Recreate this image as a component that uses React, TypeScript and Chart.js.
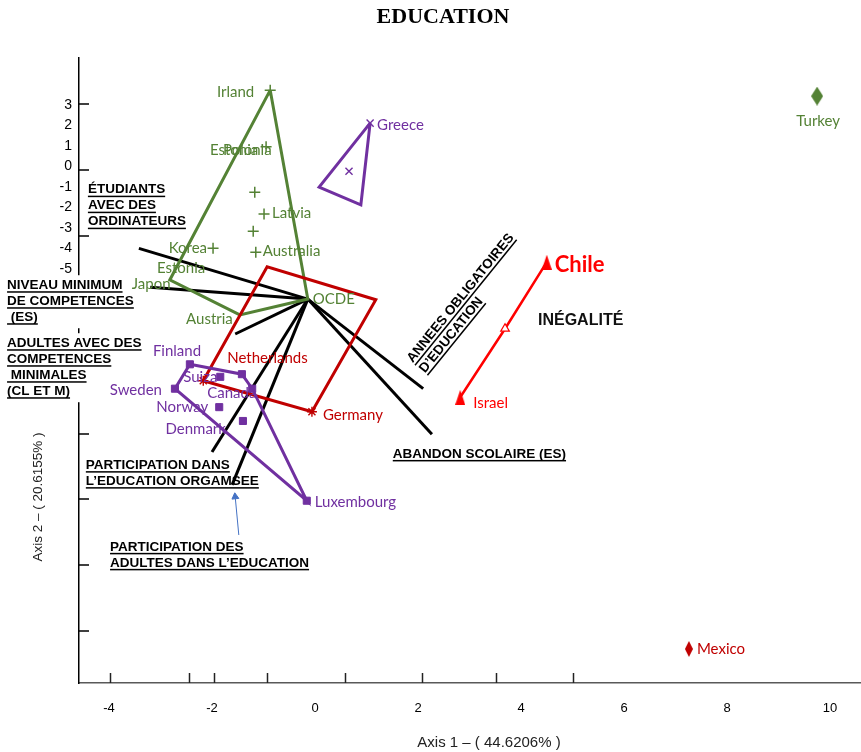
import React, { useEffect, useRef } from 'react';
import { Chart, registerables } from 'chart.js';

Chart.register(...registerables);

// ---------------- data ----------------
const xTickLabels = [-4, -2, 0, 2, 4, 6, 8, 10];
const yTickLabels = [3, 2, 1, 0, -1, -2, -3, -4, -5];
const xTickMarks = [-3.98, -2.45, -1.96, -0.93, 0.58, 2.08, 3.52, 5.01];
const yTickMarks = [3, 2, 1, 0, -1, -2, -3, -4, -5];

// green group
const greenPlusNames = ['Irland', 'Polonia', '', 'Latvia', '', 'Australia', 'Korea'];
const greenPlusX = [-0.87, -0.95, -1.17, -0.99, -1.2, -1.15, -1.98];
const greenPlusY = [3.21, 2.35, 1.66, 1.33, 1.07, 0.75, 0.81];
const greenVertexNames = ['Japon', 'Austria', 'OCDE'];
const greenVertexX = [-2.82, -1.46, -0.14];
const greenVertexY = [0.33, -0.2, 0.04];
const greenHull = ['Irland', 'OCDE', 'Austria', 'Japon', 'Irland'];
const turkeyX = [9.75];
const turkeyY = [3.12];
const greenExtraNames = ['Estonia', 'Estonia'];
const greenExtraX = [-2.04, -3.07];
const greenExtraY = [2.3, 0.51];

// purple group
const purpleSquareNames = ['Finland', '', 'Suiza', 'Canada', 'Sweden', 'Norway', 'Denmark', 'Luxembourg'];
const purpleSquareX = [-2.43, -1.42, -1.84, -1.22, -2.72, -1.86, -1.4, -0.16];
const purpleSquareY = [-0.95, -1.1, -1.14, -1.32, -1.32, -1.6, -1.81, -3.02];
const purpleHull = [0, 1, 3, 7, 4, 0];
const purpleCrossNames = ['Greece', ''];
const purpleCrossX = [1.07, 0.66];
const purpleCrossY = [2.71, 1.98];
const greeceTriX = [1.07, 0.89, 0.08, 1.07];
const greeceTriY = [2.71, 1.47, 1.74, 2.71];

// red group
const redStarNames = ['Netherlands', 'Germany'];
const redStarX = [-2.17, -0.06];
const redStarY = [-1.2, -1.67];
const redHullX = [-2.17, -0.93, 1.18, -0.06, -2.17];
const redHullY = [-1.2, 0.53, 0.03, -1.67, -1.2];
const inequalityNames = ['Chile', '', 'Israel'];
const inequalityX = [4.5, 3.69, 2.82];
const inequalityY = [0.6, -0.41, -1.45];
const mexicoX = [7.26];
const mexicoY = [-5.27];

// loading vectors (from OCDE)
const vectorOrigin = { x: -0.14, y: 0.04 };
const vectorEndX = [-3.42, -3.2, -1.55, -2.0, -1.61, 2.1, 2.27];
const vectorEndY = [0.81, 0.22, -0.49, -2.28, -2.78, -1.32, -2.01];

const blueArrowX = [-1.48, -1.55];
const blueArrowY = [-3.54, -2.96];

// annotations
const notes = [
  { lines: ['ÉTUDIANTS', 'AVEC DES', 'ORDINATEURS'], x: -4.41, y: 1.7, box: false, angle: 0 },
  { lines: ['NIVEAU MINIMUM', 'DE COMPETENCES', ' (ES)'], x: -5.98, y: 0.25, box: true, angle: 0 },
  { lines: ['ADULTES AVEC DES', 'COMPETENCES', ' MINIMALES', '(CL ET M)'], x: -5.98, y: -0.63, box: true, angle: 0 },
  { lines: ['PARTICIPATION DANS', 'L\u2019EDUCATION ORGAMSEE'], x: -4.45, y: -2.48, box: false, angle: 0 },
  { lines: ['PARTICIPATION DES', 'ADULTES DANS L\u2019EDUCATION'], x: -3.98, y: -3.72, box: false, angle: 0 },
  { lines: ['ABANDON SCOLAIRE (ES)'], x: 1.51, y: -2.31, box: false, angle: 0 },
  { lines: ['ANNEES OBLIGATOIRES', 'D\u2019EDUCATION'], x: 1.84, y: -0.9, box: false, angle: -51 },
];
const inequalityNote = { text: 'INÉGALITÉ', x: 4.33, y: -0.29 };

const chartTitle = 'EDUCATION';
const xTitle = 'Axis 1 \u2013 ( 44.6206% )';
const yTitle = 'Axis 2 \u2013 ( 20.6155% )';

// ---------------- styles ----------------
const GREEN = '#548235';
const PURPLE = '#7030a0';
const DARKRED = '#c00000';
const RED = '#ff0000';
const LABEL_FONT = '15px Lato, "Noto Sans", sans-serif';
const NOTE_FONT = 'bold 13.5px "Liberation Sans", Arial, sans-serif';
const LINE_GAP = 16;

const labelPlacement: Record<string, [CanvasTextAlign, number, number]> = {
  Irland: ['right', -16, 2],
  Polonia: ['left', -43, 3],
  Latvia: ['left', 8, -1],
  Australia: ['left', 7, -1],
  Korea: ['right', -6, 0],
  Japon: ['left', -38, 4],
  Austria: ['right', -7, 4],
  OCDE: ['left', 5, 0],
  Turkey: ['center', 1, 25],
  Greece: ['left', 7, 2],
  Finland: ['left', -37, -13],
  Suiza: ['left', -37, 0],
  Canada: ['left', -45, 4],
  Sweden: ['right', -13, 1],
  Norway: ['right', -11, 0],
  Denmark: ['right', -17, 8],
  Luxembourg: ['left', 8, 1],
  Netherlands: ['left', 24, -23],
  Germany: ['left', 11, 3],
  Chile: ['left', 8, 3],
  Israel: ['left', 13, 6],
  Mexico: ['left', 8, 0],
};
const labelFonts: Record<string, string> = {
  Chile: 'bold 22px Lato, "Noto Sans", sans-serif',
};

const pts = (xs: number[], ys: number[]) => xs.map((x, i) => ({ x, y: ys[i] }));

function makeDiamond(color: string, w: number, h: number) {
  const c = document.createElement('canvas');
  c.width = w;
  c.height = h;
  const g = c.getContext('2d')!;
  g.fillStyle = color;
  g.beginPath();
  g.moveTo(w / 2, 0);
  g.lineTo(w, h / 2);
  g.lineTo(w / 2, h);
  g.lineTo(0, h / 2);
  g.closePath();
  g.fill();
  return c;
}
function makeArrowHead(color: string, w: number, h: number) {
  const c = document.createElement('canvas');
  c.width = w;
  c.height = h;
  const g = c.getContext('2d')!;
  g.fillStyle = color;
  g.beginPath();
  g.moveTo(w / 2, 0);
  g.lineTo(w, h);
  g.lineTo(0, h);
  g.closePath();
  g.fill();
  return c;
}

const overlayPlugin = {
  id: 'overlay',
  beforeDatasetsDraw(chart: any) {
    const { ctx, chartArea } = chart;
    const xs = chart.scales.x;
    const ys = chart.scales.y;
    ctx.save();
    // inward tick marks
    ctx.strokeStyle = '#222';
    ctx.lineWidth = 1.5;
    xTickMarks.forEach((v) => {
      const p = Math.round(xs.getPixelForValue(v)) + 0.5;
      ctx.beginPath();
      ctx.moveTo(p, chartArea.bottom);
      ctx.lineTo(p, chartArea.bottom - 10);
      ctx.stroke();
    });
    ctx.strokeStyle = '#000';
    yTickMarks.forEach((v) => {
      const p = Math.round(ys.getPixelForValue(v));
      ctx.beginPath();
      ctx.moveTo(chartArea.left, p);
      ctx.lineTo(chartArea.left + 10, p);
      ctx.stroke();
    });
    // white boxes behind some notes
    ctx.font = NOTE_FONT;
    notes.forEach((n) => {
      if (!n.box) return;
      const px = xs.getPixelForValue(n.x);
      const py = ys.getPixelForValue(n.y);
      const w = Math.max(...n.lines.map((t) => ctx.measureText(t).width));
      ctx.fillStyle = '#ffffff';
      ctx.fillRect(px - 4, py - 10, w + 8, (n.lines.length - 1) * LINE_GAP + 21);
    });
    ctx.restore();
  },
  afterDatasetsDraw(chart: any) {
    const { ctx } = chart;
    const xs = chart.scales.x;
    const ys = chart.scales.y;
    ctx.save();
    ctx.textBaseline = 'middle';

    // notes
    notes.forEach((n) => {
      const px = xs.getPixelForValue(n.x);
      const py = ys.getPixelForValue(n.y);
      ctx.save();
      ctx.translate(px, py);
      if (n.angle) ctx.rotate((n.angle * Math.PI) / 180);
      ctx.font = NOTE_FONT;
      ctx.textAlign = 'left';
      ctx.fillStyle = '#000';
      n.lines.forEach((t, i) => {
        const y = i * LINE_GAP;
        ctx.fillText(t, 0, y);
        const w = ctx.measureText(t).width;
        ctx.fillRect(0, y + 6, w, 1.5);
      });
      ctx.restore();
    });
    ctx.font = 'bold 16px "Liberation Sans", Arial, sans-serif';
    ctx.textAlign = 'left';
    ctx.fillStyle = '#111';
    ctx.fillText(inequalityNote.text, xs.getPixelForValue(inequalityNote.x), ys.getPixelForValue(inequalityNote.y));

    // extra green labels
    ctx.font = LABEL_FONT;
    ctx.fillStyle = GREEN;
    greenExtraNames.forEach((t, i) => {
      ctx.fillText(t, xs.getPixelForValue(greenExtraX[i]), ys.getPixelForValue(greenExtraY[i]));
    });

    // point labels
    chart.data.datasets.forEach((ds: any, i: number) => {
      const names: string[] | undefined = ds.pointNames;
      if (!names) return;
      const meta = chart.getDatasetMeta(i);
      meta.data.forEach((el: any, j: number) => {
        const name = names[j];
        if (!name) return;
        const [align, dx, dy] = labelPlacement[name] || ['left', 7, 0];
        ctx.font = labelFonts[name] || LABEL_FONT;
        ctx.fillStyle = ds.labelColor;
        ctx.textAlign = align;
        ctx.fillText(name, el.x + dx, el.y + dy);
      });
    });

    // titles
    ctx.fillStyle = '#000';
    ctx.textAlign = 'center';
    ctx.font = 'bold 22px "Liberation Serif", "Times New Roman", serif';
    ctx.fillText(chartTitle, 443, 17);
    ctx.font = '15px "Liberation Sans", Arial, sans-serif';
    ctx.fillStyle = '#222';
    ctx.fillText(xTitle, 489, 743);
    ctx.save();
    ctx.translate(38, 497);
    ctx.rotate(-Math.PI / 2);
    ctx.font = '13.5px "Liberation Sans", Arial, sans-serif';
    ctx.fillText(yTitle, 0, 0);
    ctx.restore();

    ctx.restore();
  },
};

export default function App() {
  const ref = useRef<HTMLCanvasElement>(null);

  useEffect(() => {
    if (!ref.current) return;
    const turkeyDiamond = makeDiamond(GREEN, 12, 19);
    const mexicoDiamond = makeDiamond(DARKRED, 8, 16);
    const arrowHead = makeArrowHead(RED, 10, 15);

    const greenAll: Record<string, { x: number; y: number }> = {};
    greenPlusNames.forEach((n, i) => {
      if (n) greenAll[n] = { x: greenPlusX[i], y: greenPlusY[i] };
    });
    greenVertexNames.forEach((n, i) => {
      greenAll[n] = { x: greenVertexX[i], y: greenVertexY[i] };
    });

    const purpleSquares = pts(purpleSquareX, purpleSquareY);

    const vectorDatasets = vectorEndX.map((x, i) => ({
      data: [vectorOrigin, { x, y: vectorEndY[i] }],
      showLine: true,
      borderColor: '#000',
      borderWidth: 3,
      pointRadius: 0,
    }));

    const datasets: any[] = [
      {
        data: purpleSquares,
        pointNames: purpleSquareNames,
        labelColor: PURPLE,
        pointStyle: 'rect',
        pointRadius: 5,
        backgroundColor: PURPLE,
        borderColor: PURPLE,
        borderWidth: 1,
      },
      {
        data: pts(purpleCrossX, purpleCrossY),
        pointNames: purpleCrossNames,
        labelColor: PURPLE,
        pointStyle: 'crossRot',
        pointRadius: 5,
        borderColor: PURPLE,
        borderWidth: 1.4,
      },
      {
        data: pts(greenPlusX, greenPlusY),
        pointNames: greenPlusNames,
        labelColor: GREEN,
        pointStyle: 'cross',
        pointRadius: 5.5,
        borderColor: GREEN,
        borderWidth: 1.5,
      },
      {
        data: pts(greenVertexX, greenVertexY),
        pointNames: greenVertexNames,
        labelColor: GREEN,
        pointRadius: 0,
      },
      {
        data: pts(redStarX, redStarY),
        pointNames: redStarNames,
        labelColor: DARKRED,
        pointStyle: 'star',
        pointRadius: 5,
        borderColor: DARKRED,
        borderWidth: 1.4,
      },
      {
        data: pts(inequalityX, inequalityY),
        pointNames: inequalityNames,
        labelColor: RED,
        showLine: true,
        borderColor: RED,
        borderWidth: 2.5,
        pointStyle: [arrowHead, 'triangle', arrowHead],
        pointRadius: [7, 5, 7],
        pointBackgroundColor: [RED, '#ffffff', RED],
        pointBorderColor: RED,
        pointBorderWidth: 1.2,
      },
      {
        data: pts(turkeyX, turkeyY),
        pointNames: ['Turkey'],
        labelColor: GREEN,
        pointStyle: turkeyDiamond,
        pointRadius: 8,
      },
      {
        data: pts(mexicoX, mexicoY),
        pointNames: ['Mexico'],
        labelColor: DARKRED,
        pointStyle: mexicoDiamond,
        pointRadius: 8,
      },
      {
        data: pts(blueArrowX, blueArrowY),
        showLine: true,
        borderColor: '#4472c4',
        borderWidth: 1,
        pointStyle: 'triangle',
        pointRadius: [0, 4],
        pointRotation: -6,
        backgroundColor: '#4472c4',
      },
      {
        data: purpleHull.map((i) => purpleSquares[i]),
        showLine: true,
        borderColor: PURPLE,
        borderWidth: 3,
        pointRadius: 0,
      },
      {
        data: pts(greeceTriX, greeceTriY),
        showLine: true,
        borderColor: PURPLE,
        borderWidth: 3,
        pointRadius: 0,
      },
      {
        data: pts(redHullX, redHullY),
        showLine: true,
        borderColor: DARKRED,
        borderWidth: 3,
        pointRadius: 0,
      },
      {
        data: greenHull.map((n) => greenAll[n]),
        showLine: true,
        borderColor: GREEN,
        borderWidth: 3,
        pointRadius: 0,
      },
      ...vectorDatasets,
    ];

    const chart = new Chart(ref.current, {
      type: 'scatter',
      data: { datasets },
      options: {
        responsive: false,
        animation: false,
        devicePixelRatio: 1,
        events: [],
        layout: { autoPadding: false, padding: { top: 58, left: 0, right: 0, bottom: 0 } },
        plugins: {
          legend: { display: false },
          tooltip: { enabled: false },
          title: { display: false },
        },
        scales: {
          x: {
            type: 'linear',
            position: 'bottom',
            min: -4.583,
            max: 10.602,
            grid: { display: false },
            border: { display: true, color: '#595959', width: 1.5 },
            ticks: {
              color: '#000',
              padding: 10,
              font: { family: '"Liberation Sans", Arial, sans-serif', size: 13 },
              callback: (v: any) => String(v),
            },
            afterBuildTicks: (s: any) => {
              s.ticks = xTickLabels.map((value) => ({ value }));
            },
            afterFit: (s: any) => {
              s.height = 69;
              s.paddingLeft = 0;
              s.paddingRight = 0;
            },
          },
          y: {
            type: 'linear',
            position: 'left',
            weight: 0,
            min: -5.786,
            max: 3.698,
            grid: { display: false, drawTicks: false },
            border: { display: true, color: '#000', width: 1.5 },
            ticks: { display: false },
            afterFit: (s: any) => {
              s.width = 2;
            },
          },
          yl: {
            type: 'linear',
            axis: 'y',
            position: 'left',
            weight: 1,
            min: -25.195,
            max: 5.293,
            grid: { display: false, drawTicks: false },
            border: { display: false },
            ticks: {
              color: '#000',
              padding: 5,
              font: { family: '"Liberation Sans", Arial, sans-serif', size: 14 },
              callback: (v: any) => String(v),
            },
            afterBuildTicks: (s: any) => {
              s.ticks = yTickLabels.map((value) => ({ value }));
            },
            afterFit: (s: any) => {
              s.width = 77;
            },
          },
        },
      } as any,
      plugins: [overlayPlugin],
    });
    return () => chart.destroy();
  }, []);

  return (
    <div style={{ position: 'absolute', left: 0, top: 0, width: 861, height: 752, background: '#fff' }}>
      <canvas ref={ref} width={861} height={752} style={{ display: 'block', width: 861, height: 752 }} />
    </div>
  );
}
